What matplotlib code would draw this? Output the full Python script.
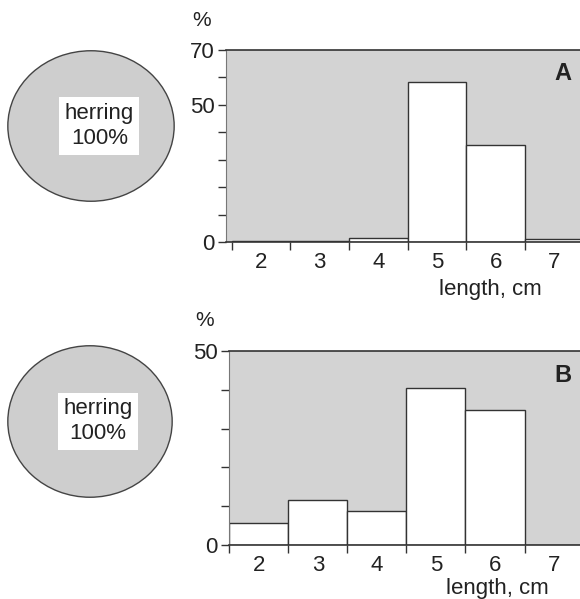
import numpy as np
import matplotlib
matplotlib.use('Agg')
import matplotlib.pyplot as plt

plt.rcParams['font.family'] = ['Liberation Sans', 'DejaVu Sans']

# data
prey = 'herring'
diet_a = [100]
diet_b = [100]
lengths = [2, 3, 4, 5, 6, 7]
pct_a = [0.2, 0.2, 1.5, 58.5, 35.5, 1.0]
pct_b = [5.6, 11.6, 8.8, 40.5, 34.8, 0.0]

W, H = 580, 599
gray = '#d3d3d3'
dark = '#333333'
fs = 16


def box(l, t, r, b):
    # pixel box -> figure fraction
    return [l / W, 1 - b / H, (r - l) / W, (b - t) / H]


fig = plt.figure(figsize=(W / 100, H / 100), dpi=100)


def pie_panel(rect, share):
    ax = fig.add_axes(rect)
    ax.pie(share, colors=['#cecece'], startangle=180, pctdistance=0.1,
           autopct=lambda p: f'{prey}\n{p:.0f}%',
           wedgeprops=dict(edgecolor='#444444', linewidth=1),
           textprops=dict(fontsize=fs, linespacing=1.25, color='#222222',
                          bbox=dict(facecolor='white', edgecolor='none', pad=4)))
    ax.set_aspect('auto')
    ax.set_xlim(-1.01, 1.01)
    ax.set_ylim(-1.01, 1.01)


def hist_panel(rect, vals, ymax, labeled, letter, x0):
    ax = fig.add_axes(rect, facecolor=gray)
    ax.bar(lengths, vals, width=1, color='white', edgecolor=dark, linewidth=1, zorder=2)
    ax.set_xlim(x0, 7.44)
    ax.set_ylim(0, ymax)
    ax.set_yticks(labeled)
    ax.set_yticks(np.arange(0, ymax + 1, 10), minor=True)
    ax.set_xticks(lengths)
    ax.set_xticks(np.arange(1.5, 7, 1), minor=True)
    ax.tick_params(axis='x', which='major', length=0, pad=7, labelsize=fs, labelcolor='#222222')
    ax.tick_params(axis='x', which='minor', length=6, width=1, color=dark)
    ax.tick_params(axis='y', which='both', length=6, width=1, pad=2, color=dark,
                   labelsize=fs, labelcolor='#222222')
    ax.spines['right'].set_visible(False)
    ax.spines['left'].set_color('#777777')
    ax.spines['left'].set_linewidth(0.8)
    for s in ('top', 'bottom'):
        ax.spines[s].set_color(dark)
        ax.spines[s].set_linewidth(1.2)
    ax.text(0.975, 0.875, letter, transform=ax.transAxes, ha='right', va='center',
            fontsize=17, fontweight='bold', color='#222222')
    ax.text(-0.07, 1.155, '%', transform=ax.transAxes, ha='center', va='center',
            fontsize=15, color='#222222')
    return ax


ax_a = hist_panel(box(226, 50, 580, 242), pct_a, 70, [0, 50, 70], 'A', 1.40)
ax_a.text(0.746, -0.245, 'length, cm', transform=ax_a.transAxes, ha='center',
          va='center', fontsize=fs, color='#222222')
ax_b = hist_panel(box(229, 351, 580, 545), pct_b, 50, [0, 50], 'B', 1.495)
ax_b.text(0.764, -0.222, 'length, cm', transform=ax_b.transAxes, ha='center',
          va='center', fontsize=fs, color='#222222')

pie_panel(box(7, 50, 175, 202), diet_a)
pie_panel(box(7, 345, 173, 498), diet_b)

fig.savefig('out.png', dpi=100)
